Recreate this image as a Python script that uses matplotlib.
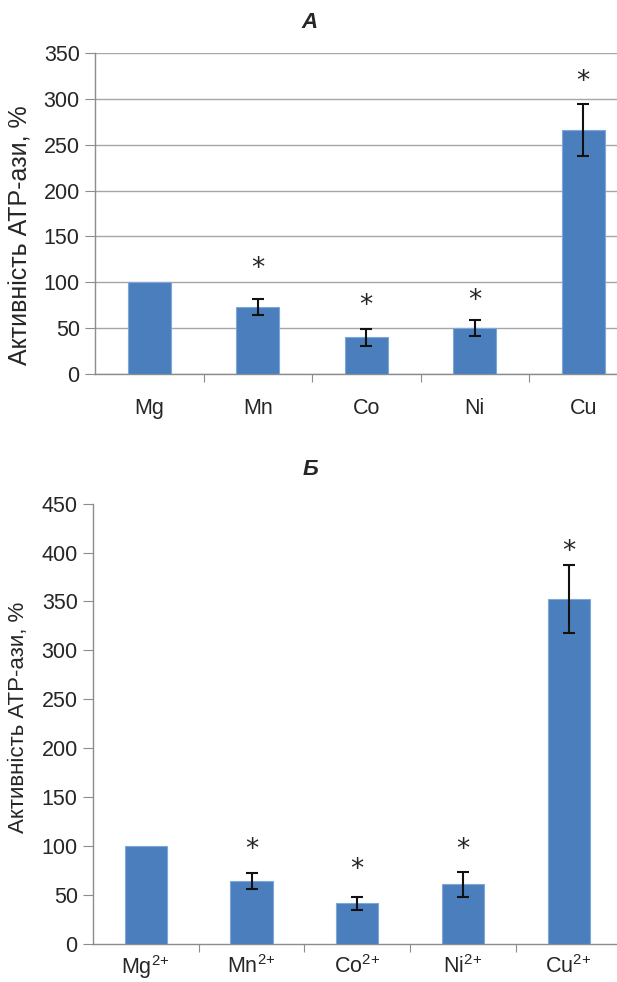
import matplotlib
matplotlib.use("Agg")
import matplotlib.pyplot as plt
import numpy as np

plt.rcParams['font.family'] = ['Liberation Sans', 'DejaVu Sans']
plt.rcParams['mathtext.fontset'] = 'custom'
plt.rcParams['mathtext.rm'] = 'Liberation Sans'
plt.rcParams['mathtext.it'] = 'Liberation Sans:italic'
plt.rcParams['mathtext.bf'] = 'Liberation Sans:bold'

# ---- data ----
cats_a = ["Mg", "Mn", "Co", "Ni", "Cu"]
vals_a = [100, 73, 40, 50, 266]
err_a = [0, 9, 9, 8.5, 28]
star_a = [None, 115, 74, 80, 318]

cats_b = ["Mg$^{2\\!+}$", "Mn$^{2\\!+}$", "Co$^{2\\!+}$", "Ni$^{2\\!+}$", "Cu$^{2\\!+}$"]
vals_b = [100, 64.5, 41.5, 61, 352.5]
err_b = [0, 8, 7, 13, 35]
star_b = [None, 95.6, 75.6, 95.6, 400.7]

ylabel = "Активність АТР-ази, %"

W, H = 617, 982
fig = plt.figure(figsize=(W / 100, H / 100), dpi=100)

bar_color = "#4A7EBD"
edge_color = "#7FA6D6"
text_color = "#262626"
axis_color = "#8C8C8C"


def make(ax, cats, vals, errs, stars, ymax, step, grid, lab_size, lab_xy, xlab_off,
         title, title_y):
    x = np.arange(len(cats))
    ax.bar(x, vals, width=0.4, color=bar_color, edgecolor=edge_color, linewidth=0.8, zorder=3)
    for xi, v, e in zip(x, vals, errs):
        if e > 0:
            ax.errorbar(xi, v, yerr=e, fmt='none', ecolor='#111111', elinewidth=1.5,
                        capsize=4, capthick=1.5, zorder=4)
    for xi, s in zip(x, stars):
        if s is not None:
            ax.text(xi, s, "*", ha='center', va='center', fontsize=19, color=text_color,
                    family='DejaVu Sans', zorder=5)
    ax.set_ylim(0, ymax)
    ax.set_yticks(np.arange(0, ymax + 1, step))
    ax.set_xlim(-0.5, len(cats) - 0.5)
    ax.set_xticks(np.arange(len(cats) - 1) + 0.5)
    ax.set_xticklabels([])
    ax.tick_params(axis='x', length=6, color=axis_color, direction='out')
    ax.tick_params(axis='y', length=7, color=axis_color, direction='out', labelsize=15.5,
                   labelcolor=text_color, pad=4)
    for i, c in enumerate(cats):
        ax.annotate(c, xy=(i, 0), xycoords=('data', 'axes fraction'),
                    xytext=(0, -xlab_off), textcoords='offset points',
                    ha='center', va='center', fontsize=15.5, color=text_color,
                    annotation_clip=False)
    for sp in ['top', 'right']:
        ax.spines[sp].set_visible(False)
    for sp in ['left', 'bottom']:
        ax.spines[sp].set_color(axis_color)
        ax.spines[sp].set_linewidth(1.0)
    if grid:
        ax.yaxis.grid(True, color='#A6A6A6', linewidth=1.0, zorder=0)
        ax.set_axisbelow(True)
    fig.text(lab_xy[0] / W, 1 - lab_xy[1] / H, ylabel, rotation=90, ha='center', va='center',
             fontsize=lab_size, color=text_color)
    fig.text(310 / W, 1 - title_y / H, title, ha='center', va='center', fontsize=16,
             fontweight='bold', fontstyle='italic', color=text_color)


ax1 = fig.add_axes([95 / W, 1 - 374 / H, 542.5 / W, 321 / H])
make(ax1, cats_a, vals_a, err_a, star_a, 350, 50, True, 18, (21, 235), 24.5, "А", 22)

ax2 = fig.add_axes([93 / W, 1 - 944 / H, 528.5 / W, 440.4 / H])
make(ax2, cats_b, vals_b, err_b, star_b, 450, 50, False, 16, (19, 717), 16.5, "Б", 470)

fig.savefig("out.png", dpi=100)
